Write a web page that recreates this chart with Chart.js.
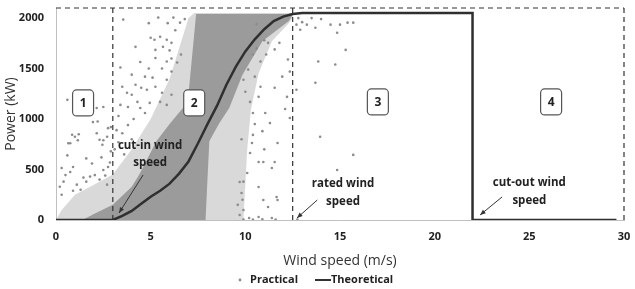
<!DOCTYPE html>
<html><head><meta charset="utf-8">
<script src="https://cdn.jsdelivr.net/npm/chart.js@4.4.0/dist/chart.umd.min.js"></script>
<style>html,body{margin:0;padding:0;background:#fff}#wrap{width:635px;height:289px;position:relative}</style>
</head><body><div id="wrap"><canvas id="c"></canvas></div>
<script>
const xTicks = [0, 5, 10, 15, 20, 25, 30];
const yTicks = [0, 500, 1000, 1500, 2000];

// Theoretical power curve
const theoreticalX = [0, 3, 3.5, 4, 4.5, 5, 5.5, 6, 6.5, 7, 7.5, 8, 8.5, 9, 9.5, 10, 10.5, 11, 11.5, 12, 12.5, 13, 22, 22, 29.6];
const theoreticalY = [0, 0, 40, 90, 160, 230, 290, 360, 460, 580, 760, 950, 1130, 1340, 1520, 1670, 1790, 1890, 1970, 2015, 2040, 2050, 2050, 0, 0];

// Medium-density halo of practical measurements (outline, kW)
const haloX      = [0, 0.3, 1, 2, 3, 4, 5, 6, 6.5, 7, 7.3, 9.9, 10.1, 10.3, 10.7, 11.4, 12.3, 12.5];
const haloTop    = [0, 100, 250, 350, 450, 700, 1000, 1400, 1700, 2000, 2050, 2050, 2050, 2050, 2050, 2050, 2050, 2050];
const haloBottom = [0, 0, 0, 0, 0, 0, 0, 0, 0, 0, 0, 0, 700, 1100, 1450, 1770, 1950, 2000];

// Dense core of the practical measurements (outline, kW)
const coreX      = [1.4, 2, 3, 4, 4.4, 5.3, 6, 6.7, 7.0, 7.4, 7.75, 7.9, 8.0, 8.1, 8.6, 9.15, 9.85, 10.9, 12.3, 12.5];
const coreTop    = [0, 60, 150, 330, 450, 780, 950, 1110, 1250, 2040, 2040, 2040, 2040, 2040, 2040, 2040, 2040, 2040, 2040, 2040];
const coreBottom = [0, 0, 0, 0, 0, 0, 0, 0, 0, 0, 0, 0, 400, 780, 950, 1110, 1440, 1770, 1970, 2030];

// Scattered practical measurements [wind speed, power]
const practicalPoints = [
 [0.6,1190],[2.15,1110],[2.5,1120],[1.95,970],[2.2,975],[2.75,910],[2.9,920],[0.85,845],[1.0,825],[1.2,850],
 [2.15,860],[0.65,760],[2.3,795],[2.7,825],[0.75,760],[1.15,790],[2.5,790],[2.45,745],[0.3,515],[0.5,445],
 [0.75,475],[0.9,525],[1.45,420],[1.8,430],[2.05,445],[2.5,495],[2.75,525],[2.85,570],[0.2,330],[0.4,380],
 [1.1,350],[1.6,380],[2.3,400],[2.6,440],[0.6,640],[1.6,610],[2.9,680],[2.4,620],[1.9,560],[0.3,250],
 [0.9,290],[1.3,300],[2.7,350],
 [3.55,1985],[5.4,2005],[6.2,2005],[6.55,1955],[5.0,1805],[5.2,1785],[5.5,1815],[5.85,1785],[4.2,1715],[5.65,1715],
 [6.1,1755],[5.25,1685],[4.45,1565],[5.25,1605],[5.85,1570],[6.1,1600],[3.4,1510],[6.6,1640],[6.1,1470],[4.7,1420],
 [5.1,1410],[5.85,1390],[3.5,1320],[4.2,1340],[4.5,1310],[4.8,1290],[5.25,1320],[3.75,1260],[4.0,1240],[5.6,1260],
 [6.1,1240],[4.3,1170],[4.95,1160],[5.5,1170],[3.4,1140],[3.8,1120],[4.45,1110],[5.85,1140],[3.2,890],[3.8,940],
 [3.5,860],[4.1,1000],[3.3,1030],[4.7,1060],[3.1,700],[3.3,770],[4.0,800],[3.6,650],[6.3,1880],[6.8,1990],
 [5.9,1950],[4.9,1950],[6.0,1680],[5.6,1500],[4.9,1500],[4.0,1440],[6.4,1560],
 [10.4,1640],[10.8,1570],[11.1,1640],[11.55,1690],[11.8,1755],[11.2,1755],[11.95,1420],[12.25,1590],[12.35,1470],[10.5,1420],
 [10.8,1320],[10.7,1220],[10.0,1270],[10.25,1170],[9.9,1390],[10.15,1490],[12.2,1220],[11.55,1310],[10.4,1060],[11.05,1060],
 [11.7,763],[10.7,575],[10.95,575],[11.55,575],[11.4,515],[10.1,466],[10.7,327],[11.65,228],[11.7,198],[10.95,198],
 [11.2,129],[9.8,268],[9.85,200],[9.9,99],[10.7,30],[11.4,20],[10.2,20],[10.4,843],[10.35,763],[10.25,664],
 [9.7,377],[9.9,380],[10.9,880],[11.3,960],[12.1,1100],[12.35,1010],[10.6,1940],[11.0,1780],[10.6,1700],[9.9,5],
 [10.4,5],[10.9,8],[11.6,5],[12.75,5],[9.7,50],[9.6,150],[11.0,700],[10.5,950],[9.8,800],
 [12.7,1935],[13.25,1935],[13.7,1905],[14.5,1935],[15.0,1935],[15.4,1955],[15.7,1955],[14.85,1855],[15.3,1685],[13.85,1570],
 [14.75,1540],[13.7,1360],[12.7,1290],[13.95,825],[15.7,645],[14.85,495],[12.8,2000],[13.5,2000],[14.0,1990],[13.0,1960],
 [12.9,1885]
];

// Region boundaries (dashed)
const cutInSpeed = 3, ratedSpeed = 12.5, xMax = 30, yMax = 2100;

const regionLabels = ['1', '2', '3', '4'];
const annotationTexts = [['cut-in wind', 'speed'], ['rated wind', 'speed'], ['cut-out wind', 'speed']];

const FONT = "'Open Sans', 'DejaVu Sans', sans-serif";
const pts = (xs, ys) => xs.map((x, i) => ({x, y: ys[i]}));
const dashLine = (a) => ({data: a, showLine: true, pointRadius: 0, borderColor: '#333', borderWidth: 1.2, borderDash: [5, 4], order: 1, clip: false});
const band = (xs, ys, fill, color) => ({data: pts(xs, ys), showLine: true, pointRadius: 0, borderWidth: 0, borderColor: 'transparent', fill: fill, backgroundColor: color, order: 3});

const overlay = {
  id: 'overlay',
  afterDatasetsDraw(chart) {
    const {ctx, scales: {x, y}} = chart;
    ctx.save();
    const boxPos = [[1.43, 1160], [7.3, 1160], [17.0, 1170], [26.15, 1170]];
    regionLabels.forEach((t, i) => {
      const cx = x.getPixelForValue(boxPos[i][0]), cy = y.getPixelForValue(boxPos[i][1]);
      const w = 21, h = 26, r = 4;
      ctx.beginPath();
      ctx.roundRect(cx - w / 2, cy - h / 2, w, h, r);
      ctx.fillStyle = '#fff'; ctx.fill();
      ctx.lineWidth = 1.2; ctx.strokeStyle = '#555'; ctx.stroke();
      ctx.fillStyle = '#222'; ctx.font = 'bold 12px ' + FONT;
      ctx.textAlign = 'center'; ctx.textBaseline = 'middle';
      ctx.fillText(t, cx, cy + 1);
    });
    const textPos = [[4.97, 734, 565], [15.16, 357, 179], [25.0, 367, 188]];
    const arrows = [[4.6, 446, 3.33, 70], [13.8, 198, 12.73, 20], [23.56, 228, 22.4, 50]];
    ctx.font = 'bold 11.5px ' + FONT; ctx.fillStyle = '#222';
    annotationTexts.forEach((lines, i) => {
      const cx = x.getPixelForValue(textPos[i][0]);
      ctx.fillText(lines[0], cx, y.getPixelForValue(textPos[i][1]));
      ctx.fillText(lines[1], cx, y.getPixelForValue(textPos[i][2]));
      const a = arrows[i];
      const x1 = x.getPixelForValue(a[0]), y1 = y.getPixelForValue(a[1]);
      const x2 = x.getPixelForValue(a[2]), y2 = y.getPixelForValue(a[3]);
      ctx.strokeStyle = '#333'; ctx.lineWidth = 1;
      ctx.beginPath(); ctx.moveTo(x1, y1); ctx.lineTo(x2, y2); ctx.stroke();
      const ang = Math.atan2(y2 - y1, x2 - x1), L = 6;
      ctx.beginPath();
      ctx.moveTo(x2, y2);
      ctx.lineTo(x2 - L * Math.cos(ang - 0.4), y2 - L * Math.sin(ang - 0.4));
      ctx.lineTo(x2 - L * Math.cos(ang + 0.4), y2 - L * Math.sin(ang + 0.4));
      ctx.closePath(); ctx.fillStyle = '#333'; ctx.fill();
      ctx.fillStyle = '#222';
    });
    ctx.restore();
  },
  afterDraw(chart) {
    const ctx = chart.ctx;
    ctx.save();
    const ly = 280;
    ctx.fillStyle = '#8c8c8c';
    ctx.beginPath(); ctx.arc(240, ly, 1.4, 0, Math.PI * 2); ctx.fill();
    ctx.font = 'bold 11px ' + FONT; ctx.fillStyle = '#222';
    ctx.textAlign = 'left'; ctx.textBaseline = 'middle';
    ctx.fillText('Practical', 250, ly);
    ctx.strokeStyle = '#333'; ctx.lineWidth = 2;
    ctx.beginPath(); ctx.moveTo(315, ly); ctx.lineTo(331, ly); ctx.stroke();
    ctx.fillText('Theoretical', 331, ly);
    ctx.restore();
  }
};

new Chart(document.getElementById('c'), {
  type: 'scatter',
  data: {
    datasets: [
      band(haloX, haloBottom, false, 'transparent'),
      band(haloX, haloTop, '-1', 'rgba(140,140,140,0.33)'),
      band(coreX, coreBottom, false, 'transparent'),
      band(coreX, coreTop, '-1', 'rgba(140,140,140,0.8)'),
      {label: 'Practical', data: practicalPoints.map(p => ({x: p[0], y: p[1]})), pointRadius: 1.3, pointBorderWidth: 0, backgroundColor: '#8c8c8c', borderColor: '#8c8c8c', order: 2},
      {label: 'Theoretical', data: pts(theoreticalX, theoreticalY), showLine: true, pointRadius: 0, borderColor: '#2f2f2f', borderWidth: 2.5, order: 0, tension: 0},
      dashLine([{x: cutInSpeed, y: 0}, {x: cutInSpeed, y: yMax}]),
      dashLine([{x: ratedSpeed, y: 0}, {x: ratedSpeed, y: yMax}]),
      dashLine([{x: 0, y: yMax}, {x: xMax, y: yMax}]),
      dashLine([{x: xMax, y: 0}, {x: xMax, y: yMax}])
    ]
  },
  options: {
    responsive: true, maintainAspectRatio: false, animation: false,
    layout: {padding: {left: 0, top: 8, right: 11, bottom: 20}},
    plugins: {legend: {display: false}, tooltip: {enabled: false}},
    scales: {
      x: {
        type: 'linear', min: 0, max: xMax,
        afterBuildTicks: s => { s.ticks = xTicks.map(v => ({value: v})); },
        afterFit: s => { s.height = 49; s.paddingLeft = 0; s.paddingRight = 0; },
        grid: {display: false, drawTicks: false},
        border: {display: true, color: '#c0c0c0', width: 1},
        ticks: {font: {family: FONT, weight: 'bold', size: 11}, color: '#222', padding: 10, maxRotation: 0, callback: v => String(v)},
        title: {display: true, text: 'Wind speed (m/s)', font: {family: FONT, size: 14}, color: '#333', padding: {top: 0, bottom: 0}}
      },
      y: {
        type: 'linear', min: 0, max: yMax,
        afterBuildTicks: s => { s.ticks = yTicks.map(v => ({value: v})); },
        afterFit: s => { s.width = 56; s.paddingTop = 0; s.paddingBottom = 0; },
        grid: {display: false, drawTicks: false},
        border: {display: true, color: '#c0c0c0', width: 1},
        ticks: {font: {family: FONT, weight: 'bold', size: 11}, color: '#222', padding: 12, callback: v => String(v)},
        title: {display: true, text: 'Power (kW)', font: {family: FONT, size: 14}, color: '#333', padding: {top: 3, bottom: 0}}
      }
    }
  },
  plugins: [overlay]
});
</script></body></html>
